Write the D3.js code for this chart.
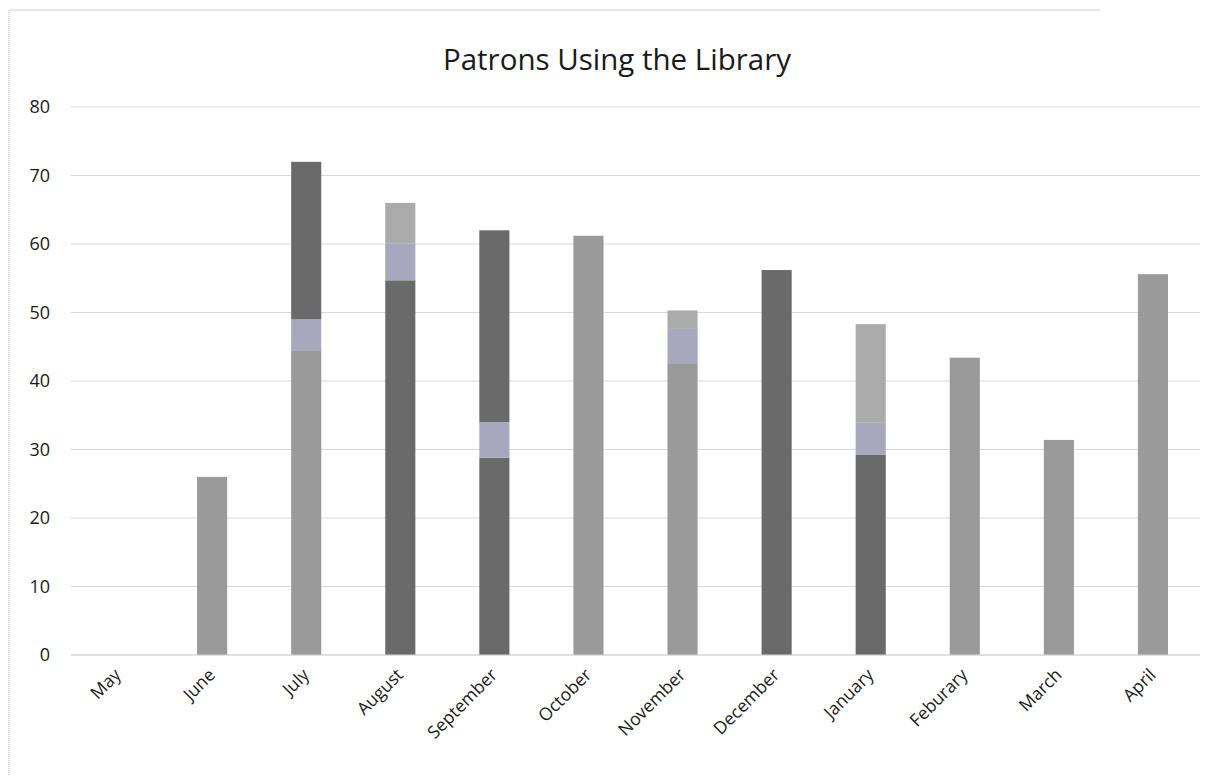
<!DOCTYPE html>
<html>
<head>
<meta charset="utf-8">
<script src="https://cdn.jsdelivr.net/npm/d3@7"></script>
<style>
  html, body { margin: 0; padding: 0; background: #fff; }
  svg { display: block; }
</style>
</head>
<body>
<svg id="chart" width="1219" height="776"></svg>
<script>
// ---- data ----
const months = ["May","June","July","August","September","October","November","December","January","Feburary","March","April"];
const lowerPart = [0, 26, 44.5, 54.7, 28.8, 61.2, 42.6, 56.2, 29.2, 43.4, 31.4, 55.6];
const markPart  = [0, 0, 4.5, 5.4, 5.2, 0, 5.0, 0, 4.7, 0, 0, 0];
const upperPart = [0, 0, 23.0, 5.9, 28.0, 0, 2.7, 0, 14.4, 0, 0, 0];
const lowerTone = ["mid","mid","mid","dark","dark","mid","mid","dark","dark","mid","mid","mid"];
const upperTone = ["mid","mid","dark","light","dark","mid","light","dark","light","mid","mid","mid"];
const yTicks = [0,10,20,30,40,50,60,70,80];
const title = "Patrons Using the Library";

const toneColor = { mid: "#9a9a9a", dark: "#6a6a6a", light: "#ababab", mark: "#a7a7bd" };

const rows = months.map((m, i) => ({ month: m, lower: lowerPart[i], mark: markPart[i], upper: upperPart[i], i }));

const svg = d3.select("#chart");
const W = 1219, H = 776;
const margin = { left: 71, right: 19, top: 107, bottom: 121 };

// faint scan border
svg.append("line").attr("x1", 9).attr("x2", 9).attr("y1", 10).attr("y2", 776)
  .attr("stroke", "#c8c8c8").attr("stroke-width", 1.2).attr("stroke-dasharray", "1,1");
svg.append("line").attr("x1", 9).attr("x2", 1100).attr("y1", 10).attr("y2", 10)
  .attr("stroke", "#e2e2e2").attr("stroke-width", 1.5);

const x = d3.scaleBand().domain(months).range([margin.left, W - margin.right]).paddingInner(0.68).paddingOuter(0.34);
const y = d3.scaleLinear().domain([0, 80]).range([H - margin.bottom, margin.top]);

// gridlines
svg.append("g").selectAll("line").data(yTicks).join("line")
  .attr("x1", margin.left).attr("x2", W - margin.right)
  .attr("y1", d => y(d)).attr("y2", d => y(d))
  .attr("stroke", "#d9d9d9").attr("stroke-width", 1);

// y axis labels
const yAxis = d3.axisLeft(y).tickValues(yTicks).tickSize(0).tickPadding(21);
const gy = svg.append("g").attr("transform", `translate(${margin.left},0)`).call(yAxis);
gy.select(".domain").remove();
gy.selectAll("text").attr("font-family", "'Open Sans', sans-serif").attr("font-size", 18).attr("fill", "#1a1a1a");

// stacked bars
const stack = d3.stack().keys(["lower", "mark", "upper"]);
const series = stack(rows);
const colorFor = (key, d) => {
  const i = d.data.i;
  if (key === "mark") return toneColor.mark;
  if (key === "lower") return toneColor[lowerTone[i]];
  return toneColor[upperTone[i]];
};
svg.append("g").selectAll("g").data(series).join("g")
  .each(function(s) {
    d3.select(this).selectAll("rect").data(s.filter(d => d[1] - d[0] > 0)).join("rect")
      .attr("x", d => x(d.data.month))
      .attr("width", x.bandwidth())
      .attr("y", d => y(d[1]))
      .attr("height", d => y(d[0]) - y(d[1]))
      .attr("fill", d => colorFor(s.key, d));
  });

// x axis baseline
svg.append("line").attr("x1", margin.left).attr("x2", W - margin.right)
  .attr("y1", y(0)).attr("y2", y(0)).attr("stroke", "#d4d4d4").attr("stroke-width", 1);

// x axis labels
const xAxis = d3.axisBottom(x).tickSize(0).tickPadding(0);
const gx = svg.append("g").attr("transform", `translate(0,${y(0)})`).call(xAxis);
gx.select(".domain").remove();
gx.selectAll("text")
  .attr("font-family", "'Open Sans', sans-serif").attr("font-size", 17.5).attr("fill", "#1a1a1a")
  .attr("text-anchor", "end").attr("dy", null).attr("y", 0)
  .attr("transform", "translate(4,21) rotate(-45)");

// title
svg.append("text").attr("x", 617).attr("y", 70).attr("text-anchor", "middle")
  .attr("font-family", "'Open Sans', sans-serif").attr("font-size", 29.5).attr("fill", "#1a1a1a")
  .text(title);
</script>
</body>
</html>
